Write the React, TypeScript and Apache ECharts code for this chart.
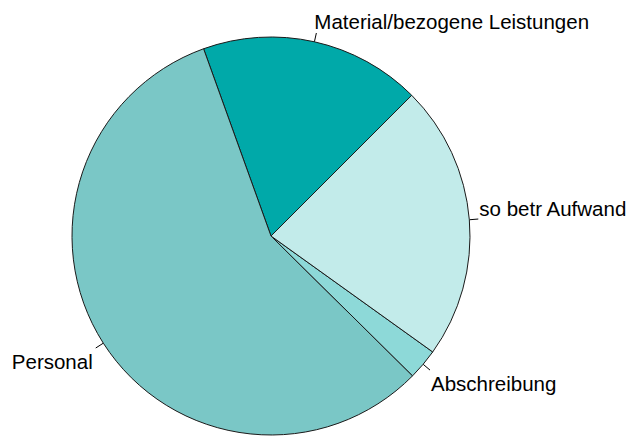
import React, { useEffect, useRef } from "react";
import * as echarts from "echarts";

const categories = ["Material/bezogene Leistungen", "Personal", "Abschreibung", "so betr Aufwand"];
const shares = [18.0, 57.1, 2.5, 22.4];
const colors = ["#00A9A9", "#7AC7C6", "#8DD9D8", "#C2EBEA"];
// vertical offset of each label from the end of its tick (text sits above / below the tick)
const labelShifts = [-12, 13, 13, -11];
const labelGaps = [-2, 3, 1, 1];

export default function App() {
  const ref = useRef<HTMLDivElement>(null);
  useEffect(() => {
    document.body.style.margin = "0";
    const chart = echarts.init(ref.current!, null, { renderer: "svg" });
    chart.setOption({
      animation: false,
      backgroundColor: "#ffffff",
      series: [
        {
          type: "pie",
          center: [271, 236],
          radius: 199,
          startAngle: 45,
          clockwise: false,
          avoidLabelOverlap: false,
          itemStyle: { borderColor: "#1a1a1a", borderWidth: 1 },
          label: {
            show: true,
            position: "outside",
            color: "#000",
            fontFamily: "Liberation Sans, Arial, sans-serif",
            fontSize: 20.5,
            distanceToLabelLine: 2,
          },
          labelLine: {
            show: true,
            length: 9,
            length2: 0,
            lineStyle: { color: "#000", width: 1 },
          },
          labelLayout: (params: any) => ({
            dy: labelShifts[params.dataIndex],
            labelLinePoints: params.labelLinePoints,
          }),
          emphasis: { disabled: true },
          data: categories.map((name, i) => ({
            name,
            value: shares[i],
            itemStyle: { color: colors[i] },
            label: { distanceToLabelLine: labelGaps[i] },
          })),
        },
      ],
    });
    return () => chart.dispose();
  }, []);
  return <div ref={ref} style={{ width: 633, height: 436 }} />;
}
